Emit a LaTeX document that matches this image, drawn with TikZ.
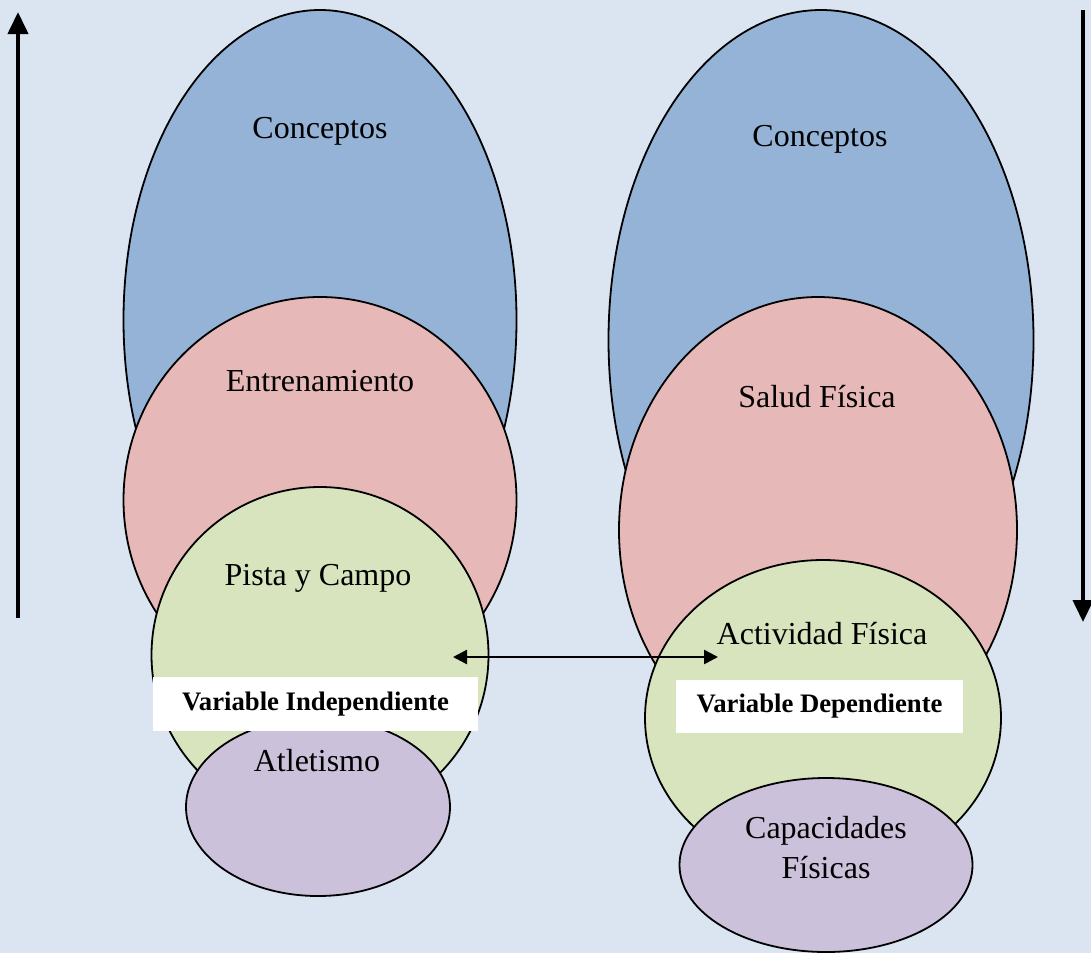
\documentclass[tikz,border=0pt]{standalone}
\usepackage{fontspec}
\setmainfont{Liberation Serif}
\usetikzlibrary{shapes.geometric,arrows.meta}
\definecolor{bgc}{HTML}{DBE5F1}
\definecolor{bluec}{HTML}{95B3D7}
\definecolor{pinkc}{HTML}{E6B9B8}
\definecolor{greenc}{HTML}{D7E4BD}
\definecolor{purplec}{HTML}{CCC1DA}
\tikzset{
  blob/.style={ellipse, draw=black, line width=1.8pt, inner sep=0pt},
  lbl/.style={font=\fontsize{32}{38}\selectfont, align=center, inner sep=0pt},
  varbox/.style={fill=white, inner sep=0pt, font=\fontsize{26.7}{32}\selectfont\bfseries},
  bigarrow/.style={line width=4pt, -{Triangle[length=22pt,width=20pt]}},
  linkarrow/.style={line width=2.5pt, {Triangle[length=14pt,width=14pt]}-{Triangle[length=14pt,width=14pt]}}
}
\begin{document}
\begin{tikzpicture}[x=1pt,y=-1pt]
\useasboundingbox (0,0) rectangle (1091,953);
\fill[bgc] (0,0) rectangle (1091,953);
% left column
\node[blob, fill=bluec, minimum width=393pt, minimum height=620pt] (lblue) at (320,320) {};
\node[blob, fill=pinkc, minimum width=393pt, minimum height=406pt] (lpink) at (320,500) {};
\node[blob, fill=greenc, minimum width=337pt, minimum height=336pt] (lgreen) at (320,655) {};
\node[blob, fill=purplec, minimum width=264pt, minimum height=178pt] (lpurple) at (318,807) {};
% right column
\node[blob, fill=bluec, minimum width=425pt, minimum height=660pt] (rblue) at (821,340) {};
\node[blob, fill=pinkc, minimum width=398pt, minimum height=466pt] (rpink) at (818,530) {};
\node[blob, fill=greenc, minimum width=356pt, minimum height=316pt] (rgreen) at (823,718) {};
\node[blob, fill=purplec, minimum width=293pt, minimum height=174pt] (rpurple) at (826,865) {};
% texts
\node[lbl] (t1) at (320,131) {Conceptos};
\node[lbl] (t2) at (320,381) {Entrenamiento};
\node[lbl] (t3) at (318,578) {Pista y Campo};
\node[lbl] (t4) at (317,761) {Atletismo};
\node[lbl] (t5) at (820,139) {Conceptos};
\node[lbl] (t6) at (817,397) {Salud Física};
\node[lbl] (t7) at (822,634) {Actividad Física};
\node[lbl] (t8) at (826,848) {Capacidades\\[2pt]Físicas};
% variable boxes
\node[varbox, minimum width=325pt, minimum height=54pt] (vi) at (315.5,704) {Variable Independiente};
\node[varbox, minimum width=287pt, minimum height=53pt] (vd) at (819.5,706.5) {Variable Dependiente};
% arrows
\coordinate (la) at (18,618);
\coordinate (lb) at (18,12);
\coordinate (ra) at (1083,10);
\coordinate (rb) at (1083,622);
\coordinate (ha) at (453,657);
\coordinate (hb) at (718,657);
\draw[bigarrow] (la) -- (lb);
\draw[bigarrow] (ra) -- (rb);
\draw[linkarrow] (ha) -- (hb);
\end{tikzpicture}
\end{document}
